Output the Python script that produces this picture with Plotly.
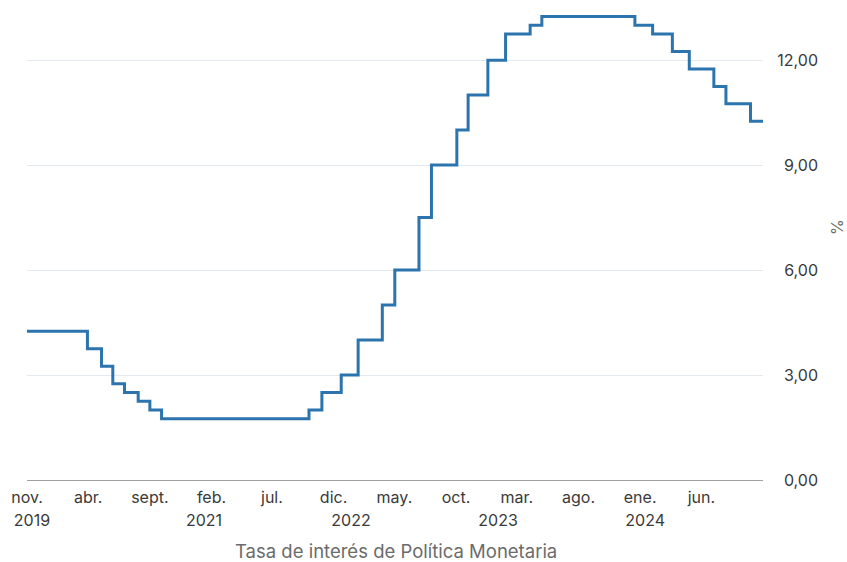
import plotly.graph_objects as go

# Tasa de interés de política monetaria (fechas de cambio y nivel vigente)
fechas = [
    "2019-11-01", "2020-03-30", "2020-05-04", "2020-06-01", "2020-06-30",
    "2020-08-03", "2020-09-01", "2020-09-30", "2021-10-01", "2021-11-02",
    "2021-12-20", "2022-01-31", "2022-04-01", "2022-05-02", "2022-07-01",
    "2022-08-01", "2022-10-03", "2022-10-31", "2022-12-19", "2023-02-01",
    "2023-04-03", "2023-05-02", "2023-12-19", "2024-02-01", "2024-03-21",
    "2024-05-02", "2024-07-02", "2024-08-01", "2024-10-01", "2024-11-01",
]
tasas = [
    4.25, 3.75, 3.25, 2.75, 2.50,
    2.25, 2.00, 1.75, 2.00, 2.50,
    3.00, 4.00, 5.00, 6.00, 7.50,
    9.00, 10.00, 11.00, 12.00, 12.75,
    13.00, 13.25, 13.00, 12.75, 12.25,
    11.75, 11.25, 10.75, 10.25, 10.25,
]

mes_ticks = ["2019-11-01", "2020-04-01", "2020-09-01", "2021-02-01", "2021-07-01",
             "2021-12-01", "2022-05-01", "2022-10-01", "2023-03-01", "2023-08-01",
             "2024-01-01", "2024-06-01"]
mes_labels = ["nov.", "abr.", "sept.", "feb.", "jul.", "dic.", "may.", "oct.",
              "mar.", "ago.", "ene.", "jun."]
anio_ticks = ["2019-11-01", "2021-01-01", "2022-01-01", "2023-01-01", "2024-01-01"]
anio_labels = ["2019", "2021", "2022", "2023", "2024"]

y_ticks = [0, 3, 6, 9, 12]
y_labels = ["0,00", "3,00", "6,00", "9,00", "12,00"]

x_title = "Tasa de interés de Política Monetaria"
y_title = "%"

FONT = "Inter"
TICK_SIZE = 16
TICK_COLOR = "#3a3a3a"
TITLE_COLOR = "#6b6b6b"
x_range = [fechas[0], fechas[-1]]
L, R = 27, 26
PW = 847 - L - R
dom_end = 736 / PW

fig = go.Figure()
fig.add_trace(go.Scatter(
    x=fechas, y=tasas, mode="lines", line_shape="hv",
    line=dict(color="#2c74ad", width=3), hoverinfo="skip", showlegend=False,
))
fig.add_trace(go.Scatter(
    x=fechas, y=tasas, mode="lines", xaxis="x2",
    line=dict(color="rgba(0,0,0,0)", width=0), hoverinfo="skip", showlegend=False,
))

fig.update_layout(
    template="none",
    width=847, height=562,
    margin=dict(l=L, r=R, t=8, b=82, autoexpand=False),
    paper_bgcolor="white", plot_bgcolor="white",
    font=dict(family=FONT, size=TICK_SIZE, color=TICK_COLOR),
    xaxis=dict(
        type="date", range=x_range, domain=[0, dom_end], automargin=False,
        tickvals=mes_ticks, ticktext=mes_labels,
        showgrid=False, zeroline=False,
        showline=True, linecolor="#a0a0a0", linewidth=1,
        ticks="", ticklabelstandoff=3,
        tickfont=dict(family=FONT, size=TICK_SIZE, color=TICK_COLOR),
    ),
    xaxis2=dict(
        type="date", range=x_range, domain=[0, dom_end], automargin=False,
        overlaying="x", anchor="y", side="bottom",
        tickvals=anio_ticks, ticktext=anio_labels,
        showgrid=False, zeroline=False, showline=False,
        ticks="", ticklabelstandoff=29, ticklabelshift=5,
        tickfont=dict(family=FONT, size=TICK_SIZE, color=TICK_COLOR),
    ),
    yaxis=dict(
        range=[0, 13.49], side="right", anchor="free", position=1,
        automargin=False,
        tickvals=y_ticks, ticktext=y_labels,
        ticklabelposition="inside", ticklabeloverflow="allow",
        showgrid=True, gridcolor="#e4e9ef", gridwidth=1,
        zeroline=False, showline=False, ticks="",
        tickfont=dict(family=FONT, size=TICK_SIZE, color=TICK_COLOR),
    ),
    annotations=[
        dict(
            text=y_title, xref="paper", yref="paper",
            x=(837 - L) / PW, y=(480 - 227) / 472,
            xanchor="center", yanchor="middle", textangle=-90, showarrow=False,
            font=dict(family=FONT, size=16, color=TITLE_COLOR),
        ),
        dict(
            text=x_title, xref="paper", yref="paper",
            x=(396 - L) / PW, y=(480 - 551) / 472,
            xanchor="center", yanchor="middle", showarrow=False,
            font=dict(family=FONT, size=18.5, color=TITLE_COLOR),
        ),
    ],
)

fig.write_html("out.html", config={"displayModeBar": False},
               post_script="document.body.style.margin='0';")
